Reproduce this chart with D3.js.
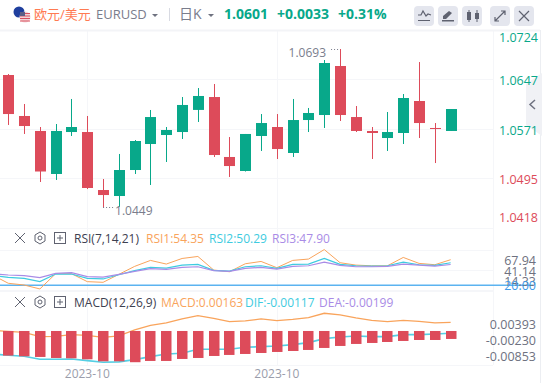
<!DOCTYPE html>
<html>
<head>
<meta charset="utf-8">
<script src="https://cdn.jsdelivr.net/npm/d3@7"></script>
<style>
  html, body { margin: 0; padding: 0; background: #fff; }
  text { font-family: "Open Sans", "Noto Sans CJK SC", sans-serif; }
</style>
</head>
<body>
<script>
const opens = [1.06531,1.05902,1.05672,1.05012,1.05656,1.05656,1.04766,1.04674,1.05073,1.05472,1.05610,1.05656,1.05995,1.06193,1.05273,1.05058,1.05595,1.05733,1.05334,1.05840,1.05917,1.06669,1.05886,1.05672,1.05564,1.05641,1.06132,1.05718,1.05672]
const closes = [1.05932,1.05748,1.05050,1.05672,1.05733,1.04797,1.04689,1.05073,1.05518,1.05886,1.05687,1.06071,1.06209,1.05303,1.05134,1.05626,1.05794,1.05395,1.05840,1.05948,1.06715,1.05917,1.05672,1.05641,1.05656,1.06178,1.05794,1.05702,1.06009]
const highs = [1.06546,1.06086,1.05733,1.05779,1.06163,1.05902,1.04935,1.05319,1.05533,1.05994,1.05733,1.06193,1.06331,1.06393,1.05579,1.05626,1.05932,1.05932,1.06163,1.06025,1.06761,1.06930,1.06055,1.05733,1.05963,1.06239,1.06730,1.05794,1.06009]
const lows = [1.05764,1.05626,1.04889,1.04920,1.05595,1.04781,1.04490,1.04505,1.05012,1.04843,1.05196,1.05549,1.05810,1.05273,1.04966,1.05050,1.05365,1.05242,1.05273,1.05656,1.05718,1.05825,1.05656,1.05242,1.05365,1.05472,1.05564,1.05180,1.05672]

const priceTicks = [1.0724, 1.0647, 1.0571, 1.0495, 1.0418]
const priceUpTicks = [1.0724, 1.0647, 1.0571]

// lines carry one extra point on the left, it sits off the clipped edge
const rsi1 = [33.8,22.7,20.4,15.1,35.6,35.6,24.9,24.0,34.7,45.4,53.4,48.5,56.0,58.7,40.5,38.2,48.9,52.0,43.6,53.4,55.2,67.94,50.3,47.1,46.2,46.2,57.4,49.4,47.6,54.35]
const rsi2 = [32.9,30.7,29.3,24.9,35.1,35.1,29.3,28.5,34.2,39.6,44.0,43.1,47.1,48.0,40.0,39.1,44.9,46.2,42.7,48.0,48.5,56.0,48.0,46.2,45.8,46.2,51.2,47.6,46.7,50.29]
const rsi3 = [35.6,33.8,32.9,30.2,36.0,36.9,31.6,31.1,34.7,38.7,42.3,41.4,44.0,44.9,39.6,38.7,42.7,44.0,41.8,45.4,46.2,51.2,46.7,44.9,44.9,45.4,48.5,47.1,45.8,47.90]
const rsiBand = 20
const rsiTicks = [67.94, 41.14, 14.33]

const macdLine = [-0.00041,-0.00066,-0.00092,-0.00202,-0.00193,-0.00151,-0.00168,-0.00219,-0.00185,-0.00032,0.00087,0.00146,0.00248,0.00333,0.00265,0.00180,0.00197,0.00248,0.00205,0.00239,0.00282,0.00393,0.00350,0.00273,0.00214,0.00180,0.00214,0.00188,0.00146,0.00163]
const difLine = [-0.00643,-0.00677,-0.00702,-0.00779,-0.00779,-0.00770,-0.00813,-0.00853,-0.00845,-0.00787,-0.00711,-0.00643,-0.00626,-0.00524,-0.00524,-0.00524,-0.00473,-0.00456,-0.00439,-0.00405,-0.00355,-0.00253,-0.00210,-0.00185,-0.00202,-0.00202,-0.00151,-0.00151,-0.00134,-0.00117]
const macdBars = [-0.00685,-0.00702,-0.00719,-0.00745,-0.00753,-0.00779,-0.00830,-0.00830,-0.00853,-0.00821,-0.00821,-0.00770,-0.00745,-0.00694,-0.00668,-0.00643,-0.00618,-0.00592,-0.00567,-0.00541,-0.00490,-0.00439,-0.00388,-0.00363,-0.00338,-0.00312,-0.00287,-0.00287,-0.00261]
const macdBase = -0.00058
const macdTicks = ['0.00393', '-0.00230', '-0.00853']

const xTickIndex = [5, 17]
const xTickLabels = ['2023-10', '2023-10']

const green = '#08a88a'
const red = '#dd4b5a'
const grid = '#f5f6f9'
const gray = '#7a7d8c'

const chartW = 493
const svg = d3.select('body').append('svg')
  .attr('width', 542)
  .attr('height', 383)
  .style('display', 'block')

const x = d3.scaleLinear().domain([-0.525, 30.68]).range([0, chartW])
const priceY = d3.scaleLinear().domain([1.0449, 1.0693]).range([208, 49])
const rsiY = d3.scaleLinear().domain([20, 54.35]).range([285.3, 259.7])
const macdY = d3.scaleLinear().domain([-0.00117, 0.00163]).range([333.3, 322.3])

svg.append('defs').append('clipPath').attr('id', 'plot')
  .append('rect').attr('x', 0).attr('y', 0).attr('width', chartW).attr('height', 365)

// grid
const gridG = svg.append('g').attr('stroke', grid).attr('stroke-width', 1)
const hLines = priceTicks.map(d => priceY(d)).concat(rsiTicks.map(d => rsiY(d)), [291, 365])
gridG.selectAll('.h').data(hLines).enter().append('line')
  .attr('x1', 0).attr('x2', chartW)
  .attr('y1', d => Math.round(d) + 0.5).attr('y2', d => Math.round(d) + 0.5)
gridG.selectAll('.v').data(xTickIndex).enter().append('line')
  .attr('x1', d => Math.round(x(d)) + 0.5).attr('x2', d => Math.round(x(d)) + 0.5)
  .attr('y1', 30).attr('y2', 365)
gridG.append('line').attr('x1', chartW + 0.5).attr('x2', chartW + 0.5).attr('y1', 30).attr('y2', 365)
gridG.append('line').attr('x1', 540.5).attr('x2', 540.5).attr('y1', 0).attr('y2', 383).attr('stroke', '#eceef2')

// header
svg.append('rect').attr('width', 542).attr('height', 30).attr('fill', '#fff')
svg.append('line').attr('x1', 0).attr('x2', 540).attr('y1', 30.5).attr('y2', 30.5).attr('stroke', '#f3f4f7').attr('stroke-width', 2)

// candles
const idx = d3.range(opens.length)
const candles = svg.append('g').attr('clip-path', 'url(#plot)')
const candleColor = i => closes[i] >= opens[i] ? green : red
candles.selectAll('.wick').data(idx).enter().append('line')
  .attr('x1', i => Math.round(x(i)) + 0.5).attr('x2', i => Math.round(x(i)) + 0.5)
  .attr('y1', i => priceY(highs[i])).attr('y2', i => priceY(lows[i]))
  .attr('stroke', candleColor).attr('stroke-width', 1)
candles.selectAll('.body').data(idx).enter().append('rect')
  .attr('x', i => Math.round(x(i)) - 5).attr('width', 11)
  .attr('y', i => priceY(Math.max(opens[i], closes[i])))
  .attr('height', i => Math.max(1, Math.abs(priceY(opens[i]) - priceY(closes[i]))))
  .attr('fill', candleColor)

// high / low markers
const hiIdx = highs.indexOf(d3.max(highs))
const loIdx = lows.indexOf(d3.min(lows))
svg.append('line')
  .attr('x1', x(hiIdx) - 9).attr('x2', x(hiIdx))
  .attr('y1', priceY(highs[hiIdx]) + 0.5).attr('y2', priceY(highs[hiIdx]) + 0.5)
  .attr('stroke', gray).attr('stroke-dasharray', '1 2')
svg.append('text').attr('x', x(hiIdx) - 14).attr('y', priceY(highs[hiIdx]) + 8)
  .attr('text-anchor', 'end').attr('font-size', 12).attr('fill', gray).text(highs[hiIdx].toFixed(4))
svg.append('line')
  .attr('x1', x(loIdx)).attr('x2', x(loIdx) + 10)
  .attr('y1', priceY(lows[loIdx]) - 0.5).attr('y2', priceY(lows[loIdx]) - 0.5)
  .attr('stroke', gray).attr('stroke-dasharray', '1 2')
svg.append('text').attr('x', x(loIdx) + 12).attr('y', priceY(lows[loIdx]) + 7)
  .attr('font-size', 12).attr('fill', gray).text(lows[loIdx].toFixed(4))

// collapse tab sits under the axis labels
svg.append('path').attr('d', 'M542 73 L526 84 L526 125 L542 136 Z').attr('fill', '#f0f1f5')
svg.append('path').attr('d', 'M535 100 L530 104.5 L535 109').attr('fill', 'none').attr('stroke', '#6f7280').attr('stroke-width', 1.5)

// price axis, outer labels get pushed inside the panel
const priceAxis = svg.append('g')
  .attr('transform', `translate(${chartW + 6},0)`)
  .call(d3.axisRight(priceY).tickValues(priceTicks).tickSize(0).tickPadding(0).tickFormat(d3.format('.4f')))
priceAxis.select('.domain').remove()
priceAxis.selectAll('.tick')
  .attr('transform', d => `translate(0,${Math.max(38, Math.min(218, priceY(d) + 2))})`)
priceAxis.selectAll('text')
  .attr('font-size', 12.5)
  .attr('fill', d => priceUpTicks.includes(d) ? green : red)

// lines
const lineFrom = (y) => d3.line().x((d, i) => x(i - 1)).y(d => y(d))
const drawLine = (data, y, color, w) => svg.append('path')
  .datum(data)
  .attr('clip-path', 'url(#plot)')
  .attr('fill', 'none').attr('stroke', color).attr('stroke-width', w)
  .attr('d', lineFrom(y))

svg.append('line').attr('x1', 0).attr('x2', chartW + 40)
  .attr('y1', rsiY(rsiBand)).attr('y2', rsiY(rsiBand))
  .attr('stroke', '#5cb3f0').attr('stroke-width', 1.5)
drawLine(rsi1, rsiY, '#f9a45c', 1)
drawLine(rsi2, rsiY, '#3ecbe0', 1.2)
drawLine(rsi3, rsiY, '#a98be6', 1.2)

// rsi labels are stacked, not on the scale
const rsiLabelY = d3.scalePoint().domain(rsiTicks).range([261, 282])
svg.append('g').selectAll('text').data(rsiTicks).enter().append('text')
  .attr('x', 536).attr('y', d => rsiLabelY(d) + 4)
  .attr('text-anchor', 'end').attr('font-size', 12.5).attr('fill', '#6e7180')
  .text(d => d.toFixed(2))
svg.append('text').attr('x', 536).attr('y', rsiY(rsiBand) + 5)
  .attr('text-anchor', 'end').attr('font-size', 12.5).attr('fill', '#3f9be8').text(rsiBand.toFixed(2))

// macd
drawLine(macdLine, macdY, '#f9a45c', 1.3)
drawLine(difLine, macdY, '#55cfe4', 1.6)
svg.append('g').selectAll('rect').data(macdBars).enter().append('rect')
  .attr('x', (d, i) => Math.round(x(i)) - 5).attr('width', 10.5)
  .attr('y', macdY(macdBase))
  .attr('height', d => macdY(d) - macdY(macdBase))
  .attr('fill', red)

const macdLabelY = d3.scalePoint().domain(macdTicks).range([324.7, 356.7])
svg.append('g').selectAll('text').data(macdTicks).enter().append('text')
  .attr('x', 536).attr('y', d => macdLabelY(d) + 4)
  .attr('text-anchor', 'end').attr('font-size', 12.5).attr('fill', '#6e7180')
  .text(d => d)

// x axis labels
svg.append('g').selectAll('text').data(xTickIndex).enter().append('text')
  .attr('x', d => x(d)).attr('y', 378)
  .attr('text-anchor', 'middle').attr('font-size', 12).attr('fill', '#9a9dab')
  .text((d, i) => xTickLabels[i])

// header text
const head = [
  [34, '欧元/美元', 13, '#ff7a52', 400],
  [96, 'EURUSD', 13, gray, 400],
  [179, '日K', 14, gray, 400],
  [224, '1.0601', 14, green, 700],
  [277, '+0.0033', 14, green, 700],
  [338, '+0.31%', 14, green, 700]
]
svg.append('g').selectAll('text').data(head).enter().append('text')
  .attr('x', d => d[0]).attr('y', 18.5)
  .attr('font-size', d => d[2]).attr('fill', d => d[3]).attr('font-weight', d => d[4])
  .text(d => d[1])

// dropdown carets and divider
svg.selectAll('.caret').data([155, 211]).enter().append('path')
  .attr('d', d => `M${d - 3} 14 L${d + 3} 14 L${d} 17 Z`).attr('fill', '#6f7280')
svg.append('line').attr('x1', 169.5).attr('x2', 169.5).attr('y1', 8).attr('y2', 21).attr('stroke', '#d8dae2')

// flags
svg.append('circle').attr('cx', 19).attr('cy', 12).attr('r', 5.5).attr('fill', '#1f3f9e')
svg.append('circle').attr('cx', 25).attr('cy', 17).attr('r', 5.5).attr('fill', '#f3d5d8')
svg.selectAll('.stripe').data([13.5, 16, 18.5, 21]).enter().append('line')
  .attr('x1', 20).attr('x2', 30).attr('y1', d => d).attr('y2', d => d)
  .attr('stroke', '#d9505f').attr('stroke-width', 1)
svg.append('rect').attr('x', 20).attr('y', 12).attr('width', 5).attr('height', 4).attr('fill', '#5b5f86')

// toolbar buttons
const buttons = [414, 438, 462, 490, 514]
svg.append('g').selectAll('rect').data(buttons).enter().append('rect')
  .attr('x', d => d).attr('y', 6).attr('width', 20).attr('height', 20).attr('rx', 4).attr('fill', '#e4e6ee')
const ic = '#5f6270'
const icon = (d, fill) => svg.append('path').attr('d', d)
  .attr('fill', fill ? ic : 'none').attr('stroke', fill ? 'none' : ic).attr('stroke-width', 1.2)
icon('M418 15 L421 15 L423 11 L426 16 L428 14 L431 15 M418 20.5 L430 20.5')
icon('M443 19 L443 16 L449 11 L452 13 L446 19 Z M442 20 h12 v1.5 h-12 Z', true)
icon('M467 12 h4 v8 h-4 Z M475 13 h4 v6 h-4 Z', true)
svg.append('path').attr('d', 'M469 10 V22 M477 10 V22').attr('stroke', ic)
icon('M495 21 L505 11 M501 11 H505 V15 M495 17 V21 H499')
icon('M519 11 L529 21 M529 11 L519 21')

// indicator toolbars
const rows = [[238, 'RSI(7,14,21)', 74], [302, 'MACD(12,26,9)', 74]]
rows.forEach(r => {
  const cy = r[0]
  svg.append('path').attr('d', `M15 ${cy - 5} L25 ${cy + 5} M25 ${cy - 5} L15 ${cy + 5}`).attr('stroke', ic).attr('stroke-width', 1)
  svg.append('path').attr('d', `M40 ${cy - 6} L45 ${cy - 3} V${cy + 3} L40 ${cy + 6} L35 ${cy + 3} V${cy - 3} Z`).attr('fill', 'none').attr('stroke', ic)
  svg.append('circle').attr('cx', 40).attr('cy', cy).attr('r', 2).attr('fill', 'none').attr('stroke', ic)
  svg.append('rect').attr('x', 54.5).attr('y', cy - 5.5).attr('width', 11).attr('height', 11).attr('fill', 'none').attr('stroke', ic)
  svg.append('path').attr('d', `M57 ${cy} H63 M60 ${cy - 3} V${cy + 3}`).attr('stroke', ic)
  svg.append('text').attr('x', r[2]).attr('y', cy + 4.5).attr('font-size', 12).attr('fill', '#3d4050').text(r[1])
})

const legends = [
  [146, 242.5, 'RSI1:54.35', '#f9a45c'],
  [209, 242.5, 'RSI2:50.29', '#3ecbe0'],
  [272, 242.5, 'RSI3:47.90', '#a98be6'],
  [161, 306.5, 'MACD:0.00163', '#f9a45c'],
  [245, 306.5, 'DIF:-0.00117', '#3ecbe0'],
  [319, 306.5, 'DEA:-0.00199', '#a98be6']
]
svg.append('g').selectAll('text').data(legends).enter().append('text')
  .attr('x', d => d[0]).attr('y', d => d[1])
  .attr('font-size', 12).attr('fill', d => d[3])
  .text(d => d[2])
</script>
</body>
</html>
